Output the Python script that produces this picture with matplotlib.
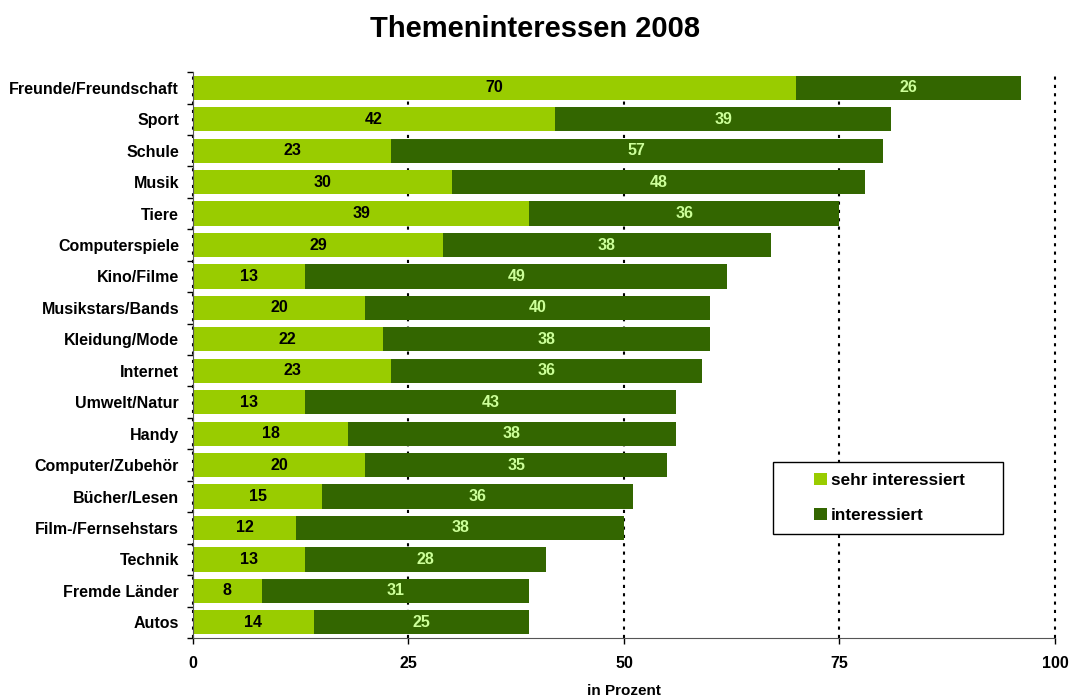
import numpy as np
import matplotlib.pyplot as plt
from matplotlib.patches import Rectangle

plt.rcParams['font.family'] = ['Liberation Sans', 'DejaVu Sans']
plt.rcParams['font.weight'] = 'bold'

# Data (in Prozent)
themen = ['Freunde/Freundschaft', 'Sport', 'Schule', 'Musik', 'Tiere',
          'Computerspiele', 'Kino/Filme', 'Musikstars/Bands', 'Kleidung/Mode',
          'Internet', 'Umwelt/Natur', 'Handy', 'Computer/Zubehör',
          'Bücher/Lesen', 'Film-/Fernsehstars', 'Technik', 'Fremde Länder', 'Autos']
sehr_interessiert = [70, 42, 23, 30, 39, 29, 13, 20, 22, 23, 13, 18, 20, 15, 12, 13, 8, 14]
interessiert = [26, 39, 57, 48, 36, 38, 49, 40, 38, 36, 43, 38, 35, 36, 38, 28, 31, 25]
x_ticks = [0, 25, 50, 75, 100]

light = '#99CC00'
dark = '#336600'

fig = plt.figure(figsize=(10.69, 6.97), dpi=100)
ax = fig.add_axes([0.1805, 0.0846, 0.8064, 0.812])

y = np.arange(len(themen))
b1 = ax.barh(y, sehr_interessiert, height=0.77, color=light, label='sehr interessiert', zorder=2)
b2 = ax.barh(y, interessiert, left=sehr_interessiert, height=0.77, color=dark,
             label='interessiert', zorder=2)

ax.bar_label(b1, label_type='center', fontsize=11.5, fontweight='bold', color='black')
ax.bar_label(b2, label_type='center', fontsize=11.5, fontweight='bold', color='#CCFF99')

ax.set_ylim(len(themen) - 0.5, -0.5)
ax.set_xlim(0, 100)
ax.set_xticks(x_ticks)
ax.set_yticks(y)
ax.set_yticklabels(themen, fontsize=11.5, fontweight='bold')
ax.set_yticks(np.arange(-0.5, len(themen), 1), minor=True)
ax.tick_params(axis='y', which='major', length=0, pad=10)
ax.tick_params(axis='y', which='minor', length=4, width=1, direction='out')
ax.tick_params(axis='x', length=4, width=1, direction='out', labelsize=11.5, pad=9)
for lab in ax.get_xticklabels():
    lab.set_fontweight('bold')

ax.xaxis.grid(True, linestyle=(0, (1.5, 2.5)), color='black', linewidth=1.5, zorder=0)
for gl in ax.get_xgridlines():
    gl.set_clip_on(False)
ax.set_axisbelow(True)

for side in ['top', 'right']:
    ax.spines[side].set_visible(False)
ax.spines['left'].set_color('#555555')
ax.spines['bottom'].set_color('#555555')

ax.set_xlabel('in Prozent', fontsize=11, fontweight='bold', labelpad=9)
fig.suptitle('Themeninteressen 2008', fontsize=21, fontweight='bold', y=0.978)

# legend box with indented entries
ax.add_patch(Rectangle((0.673, 0.184), 0.267, 0.127, transform=ax.transAxes,
                       facecolor='white', edgecolor='black', linewidth=1, zorder=5))
leg = ax.legend(loc='center left', bbox_to_anchor=(0.7205, 0.2475),
                frameon=False, fontsize=12.3, handlelength=0.75, handleheight=0.75,
                handletextpad=0.25, labelspacing=1.15, borderpad=0, borderaxespad=0)
leg.set_zorder(6)
for t in leg.get_texts():
    t.set_fontweight('bold')

fig.savefig('out.png', dpi=100)
